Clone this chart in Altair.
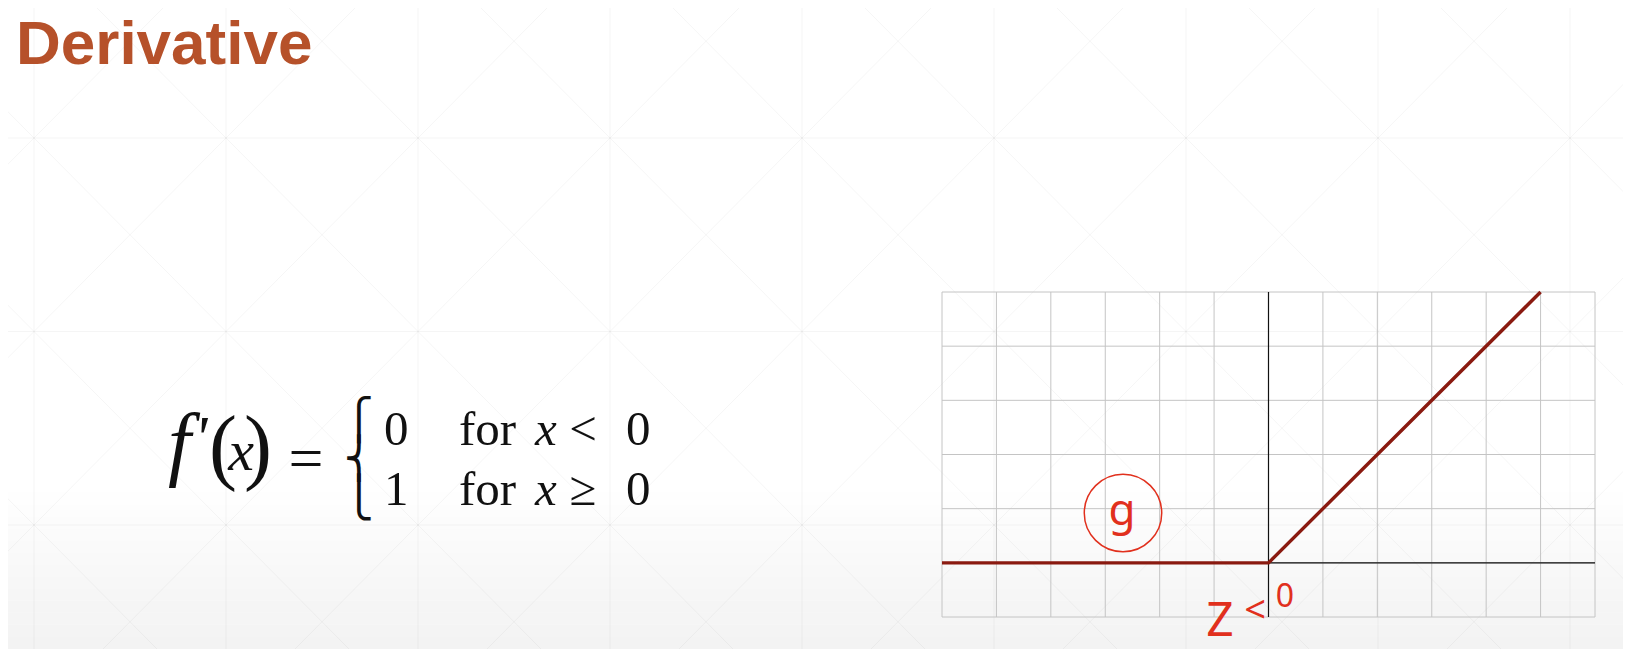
import altair as alt
import pandas as pd
import numpy as np

# ---------------- data ----------------
title_text = "Derivative"
relu_x = [-6, 0, 5]
relu_y = [0, 0, 5]
grid_x = list(range(-6, 7))
grid_y = list(range(-1, 6))
row_values = ["0", "1"]
row_ops = ["<", "≥"]
annot_g = "g"
annot_z = ["Z", "<", "0"]

# ---------------- layout constants (page pixels) ----------------
PX0, PX1 = 942, 1595      # grid box left/right
PY0, PY1 = 292, 617       # grid box top/bottom
W, H = PX1 - PX0, PY1 - PY0
SX = W / 12.0
SY = H / 6.0


def dx(px):
    return -6 + (px - PX0) / SX


def dy(py):
    return 5 - (py - PY0) / SY


def rx(px):  # page -> plot-relative pixel
    return px - PX0


def ry(py):
    return py - PY0


xs = alt.Scale(domain=[-6, 6], nice=False, zero=False)
ys = alt.Scale(domain=[-1, 5], nice=False, zero=False)

# ---------------- background shading bands (bottom of slide) ----------------
n_b = 14
b_top, b_bot = 480, 649
edges = np.linspace(b_top, b_bot, n_b + 1)
band_df = pd.DataFrame({
    "x": [dx(8)] * n_b, "x2": [dx(1623)] * n_b,
    "y": [dy(e) for e in edges[:-1]], "y2": [dy(e) for e in edges[1:]],
    "op": [(i + 0.5) / n_b * 0.05 for i in range(n_b)]})
bands = alt.Chart(band_df).mark_rect(color="#000000").encode(
    x=alt.X("x:Q", scale=xs, axis=None), x2="x2:Q",
    y=alt.Y("y:Q", scale=ys, axis=None), y2="y2:Q",
    opacity=alt.Opacity("op:Q", scale=None, legend=None))

# ---------------- faint slide pattern ----------------
vx = [34 + 192 * k for k in range(-1, 10)]
hy = [138 + 193.5 * k for k in range(-1, 4)]
segs = []
for x in vx:
    segs.append((x, -60, x, 720))
for y in hy:
    segs.append((-200, y, 1800, y))
for i in range(len(vx) - 1):
    for j in range(len(hy) - 1):
        segs.append((vx[i], hy[j], vx[i + 1], hy[j + 1]))
        segs.append((vx[i + 1], hy[j], vx[i], hy[j + 1]))
deco_df = pd.DataFrame({
    "x": [dx(s[0]) for s in segs], "y": [dy(s[1]) for s in segs],
    "x2": [dx(s[2]) for s in segs], "y2": [dy(s[3]) for s in segs]})
deco = alt.Chart(deco_df).mark_rule(color="#000000", opacity=0.04, strokeWidth=1).encode(
    x=alt.X("x:Q", scale=xs, axis=None), x2="x2:Q",
    y=alt.Y("y:Q", scale=ys, axis=None), y2="y2:Q")

# ---------------- grid ----------------
gv = alt.Chart(pd.DataFrame({"gx": grid_x})).mark_rule(color="#c4c4c4", strokeWidth=1).encode(
    x=alt.X("gx:Q", scale=xs, axis=None), y=alt.value(0), y2=alt.value(H))
gh = alt.Chart(pd.DataFrame({"gy": grid_y})).mark_rule(color="#c4c4c4", strokeWidth=1).encode(
    y=alt.Y("gy:Q", scale=ys, axis=None), x=alt.value(0), x2=alt.value(W))
axv = alt.Chart(pd.DataFrame({"v": [0]})).mark_rule(color="#111111", strokeWidth=1.2).encode(
    x=alt.X("v:Q", scale=xs, axis=None), y=alt.value(0), y2=alt.value(H))
axh = alt.Chart(pd.DataFrame({"v": [0]})).mark_rule(color="#111111", strokeWidth=1.2).encode(
    y=alt.Y("v:Q", scale=ys, axis=None), x=alt.value(0), x2=alt.value(W))

# ---------------- ReLU line ----------------
line = alt.Chart(pd.DataFrame({"x": relu_x, "y": relu_y})).mark_line(
    color="#8a1a10", strokeWidth=3.4).encode(
    x=alt.X("x:Q", scale=xs, axis=None), y=alt.Y("y:Q", scale=ys, axis=None))


# ---------------- text helper ----------------
def txt(s, x, y, size, font="Liberation Serif", color="#111111", align="left",
        baseline="alphabetic", style="normal", weight="normal"):
    return alt.Chart(pd.DataFrame({"t": [s]})).mark_text(
        align=align, baseline=baseline, fontSize=size, font=font, color=color,
        fontStyle=style, fontWeight=weight).encode(
        x=alt.value(rx(x)), y=alt.value(ry(y)), text="t:N")


RED = "#e1301d"
layers = [bands, deco, gv, gh, axv, axh, line]

# title
layers.append(txt(title_text, 16, 64, 62, font="Liberation Sans", color="#b6512a", weight="bold"))

# formula f'(x) =
SERIF = "Liberation Serif"
layers.append(txt("f", 168, 470, 82, font=SERIF, style="italic"))
layers.append(txt("'", 194, 458, 62, font=SERIF, style="italic"))
layers.append(txt("(", 209, 474, 84, font=SERIF))
layers.append(txt("x", 241, 470, 58, font=SERIF, style="italic", align="center"))
layers.append(txt(")", 272, 474, 84, font=SERIF, align="right"))
layers.append(txt("=", 306, 479, 62, font=SERIF, align="center"))
# brace built from stacked pieces
layers.append(txt("⎧", 359, 421, 40, font="DejaVu Sans", align="center", baseline="middle"))
layers.append(txt("⎨", 359, 460, 40, font="DejaVu Sans", align="center", baseline="middle"))
layers.append(txt("⎩", 359, 499, 40, font="DejaVu Sans", align="center", baseline="middle"))
# rows
for val, op, base in zip(row_values, row_ops, [445, 505]):
    layers.append(txt(val, 384, base, 49, font=SERIF))
    layers.append(txt("for", 459, base, 49, font=SERIF))
    layers.append(txt("x", 535, base, 49, font=SERIF, style="italic"))
    layers.append(txt(op, 583, base, 49, font=SERIF, align="center"))
    layers.append(txt("0", 626, base, 49, font=SERIF))

# handwritten annotations
circle = alt.Chart(pd.DataFrame({"a": [0]})).mark_point(
    shape="circle", size=6000, filled=False, color=RED, strokeWidth=1.5, opacity=1).encode(
    x=alt.value(rx(1123)), y=alt.value(ry(513)))
layers.append(circle)
layers.append(txt(annot_g, 1122, 525, 44, font="Noto Sans", color=RED, align="center"))
layers.append(txt(annot_z[0], 1220, 636, 48, font="Noto Sans", color=RED, align="center"))
layers.append(txt(annot_z[1], 1255, 623, 38, font="Noto Sans", color=RED, align="center"))
layers.append(txt(annot_z[2], 1285, 607, 32, font="Noto Sans", color=RED, align="center"))

chart = alt.layer(*layers).properties(
    width=W, height=H,
    autosize=alt.AutoSizeParams(type="none"),
    padding={"left": PX0 - 8, "top": PY0 - 8, "right": 1631 - 8 - PX1, "bottom": 657 - 8 - PY1},
    background="white",
).configure_view(stroke=None)

chart.save("out.html", embed_options={"renderer": "svg", "actions": False})
